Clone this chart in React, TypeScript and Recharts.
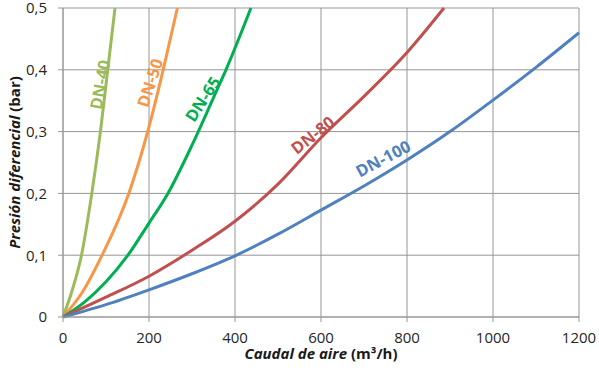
import React from 'react';
import { LineChart, Line, XAxis, YAxis, CartesianGrid, ReferenceDot } from 'recharts';

const xTicks = [0, 200, 400, 600, 800, 1000, 1200];
const yTicks = [0, 0.1, 0.2, 0.3, 0.4, 0.5];

const dn40 = [
  { q: 0, p: 0 }, { q: 20, p: 0.04 }, { q: 43, p: 0.1 }, { q: 67, p: 0.2 },
  { q: 87, p: 0.3 }, { q: 104, p: 0.4 }, { q: 121, p: 0.5 },
];
const dn50 = [
  { q: 0, p: 0 }, { q: 45, p: 0.04 }, { q: 91, p: 0.1 }, { q: 153, p: 0.2 },
  { q: 197, p: 0.3 }, { q: 233, p: 0.4 }, { q: 266, p: 0.5 },
];
const dn65 = [
  { q: 0, p: 0 }, { q: 50, p: 0.024 }, { q: 100, p: 0.057 }, { q: 151, p: 0.1 },
  { q: 200, p: 0.152 }, { q: 244, p: 0.2 }, { q: 300, p: 0.278 }, { q: 350, p: 0.355 },
  { q: 379, p: 0.4 }, { q: 437, p: 0.5 },
];
const dn80 = [
  { q: 0, p: 0 }, { q: 100, p: 0.032 }, { q: 200, p: 0.066 }, { q: 300, p: 0.108 },
  { q: 400, p: 0.155 }, { q: 500, p: 0.215 }, { q: 600, p: 0.29 }, { q: 700, p: 0.357 },
  { q: 800, p: 0.428 }, { q: 886, p: 0.5 },
];
const dn100 = [
  { q: 0, p: 0 }, { q: 100, p: 0.02 }, { q: 200, p: 0.044 }, { q: 300, p: 0.07 },
  { q: 400, p: 0.099 }, { q: 500, p: 0.134 }, { q: 600, p: 0.173 }, { q: 700, p: 0.212 },
  { q: 800, p: 0.254 }, { q: 900, p: 0.3 }, { q: 1000, p: 0.351 }, { q: 1100, p: 0.404 },
  { q: 1200, p: 0.46 },
];

const seriesNames = ['DN-40', 'DN-50', 'DN-65', 'DN-80', 'DN-100'];
const seriesColors = ['#9BBB59', '#F79646', '#00B050', '#C0504D', '#4F81BD'];
const seriesData = [dn40, dn50, dn65, dn80, dn100];
const labelQ = [85, 201, 324, 580, 744];
const labelP = [0.376, 0.379, 0.353, 0.295, 0.257];
const labelAngle = [-80, -72, -57, -38, -28];

const FONT = '"Open Sans", "DejaVu Sans", sans-serif';
const GRID = '#969696';

const fmtY = (v: number) => (v === 0 ? '0' : v.toFixed(1).replace('.', ','));

const XTitle = (props: any) => {
  const vb = props.viewBox || {};
  const cx = vb.x + vb.width / 2;
  return (
    <text x={cx} y={vb.y + 42} textAnchor="middle" fontFamily={FONT} fontSize={15} fill="#1a1a1a" fontWeight={700}>
      <tspan fontStyle="italic">Caudal de aire</tspan>
      <tspan> (m³/h)</tspan>
    </text>
  );
};

const YTitle = (props: any) => {
  const vb = props.viewBox || {};
  const cx = 14;
  const cy = vb.y + vb.height / 2;
  return (
    <text x={cx} y={cy} textAnchor="middle" dominantBaseline="central" transform={`rotate(-90, ${cx}, ${cy})`}
      fontFamily={FONT} fontSize={15} fill="#1a1a1a" fontWeight={700}>
      <tspan fontStyle="italic">Presión diferencial</tspan>
      <tspan> (bar)</tspan>
    </text>
  );
};

const makeLabelShape = (text: string, color: string, angle: number) => (props: any) => {
  const { cx, cy } = props;
  return (
    <text x={cx} y={cy} textAnchor="middle" dominantBaseline="central" transform={`rotate(${angle}, ${cx}, ${cy})`}
      fontFamily={FONT} fontSize={16.5} fontWeight={700} fill={color}>
      {text}
    </text>
  );
};

export default function App() {
  return (
    <div style={{ position: 'absolute', left: 0, top: 0, width: 599, height: 368, background: '#fff' }}>
      <LineChart width={599} height={368} margin={{ top: 8, right: 20, left: 0, bottom: 0 }}>
        <CartesianGrid stroke={GRID} strokeWidth={1} />
        <XAxis
          type="number"
          dataKey="q"
          domain={[0, 1200]}
          ticks={xTicks}
          interval={0}
          height={51}
          tickSize={5}
          tickMargin={10}
          stroke={GRID}
          tick={{ fontFamily: FONT, fontSize: 15, fill: '#262626' }}
          label={{ content: XTitle }}
        />
        <YAxis
          type="number"
          dataKey="p"
          domain={[0, 0.5]}
          ticks={yTicks}
          interval={0}
          width={63}
          tickSize={5}
          tickMargin={11}
          stroke={GRID}
          tickFormatter={fmtY}
          tick={{ fontFamily: FONT, fontSize: 15, fill: '#262626' }}
          label={{ content: YTitle }}
        />
        {seriesData.map((d, i) => (
          <Line
            key={seriesNames[i]}
            data={d}
            dataKey="p"
            type="monotone"
            stroke={seriesColors[i]}
            strokeWidth={3}
            dot={false}
            activeDot={false}
            isAnimationActive={false}
          />
        ))}
        {seriesNames.map((n, i) => (
          <ReferenceDot
            key={'lbl' + n}
            x={labelQ[i]}
            y={labelP[i]}
            r={0}
            shape={makeLabelShape(n, seriesColors[i], labelAngle[i])}
          />
        ))}
      </LineChart>
    </div>
  );
}
